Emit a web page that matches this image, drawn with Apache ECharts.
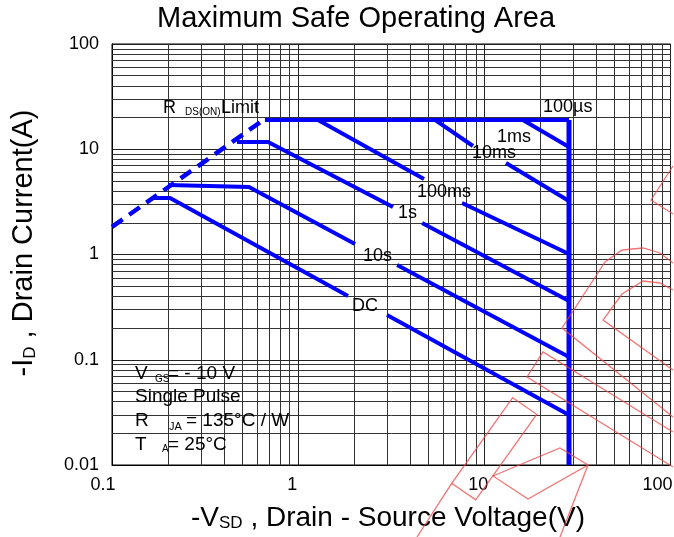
<!DOCTYPE html>
<html><head><meta charset="utf-8">
<script src="https://cdn.jsdelivr.net/npm/echarts@6/dist/echarts.min.js"></script>
<style>html,body{margin:0;padding:0;background:#fff}#c{width:674px;height:537px}</style>
</head><body><div id="c"></div>
<script>
// ---- tick labels & grid values ----
const xTickLabels = ['0.1', '1', '10', '100'];
const yTickLabels = ['0.01', '0.1', '1', '10', '100'];
const xMinorGrid = [0.2,0.3,0.4,0.5,0.6,0.7,0.8,0.9,2,3,4,5,6,7,8,9,20,30,40,50,60,70,80,90];
const yMinorGrid = [0.02,0.03,0.04,0.05,0.06,0.07,0.08,0.09,0.2,0.3,0.4,0.5,0.6,0.7,0.8,0.9,2,3,4,5,6,7,8,9,20,30,40,50,60,70,80,90];

// ---- SOA boundary data [V, A] ----
const rdsonLimit   = [[0.1, 1.83], [0.64, 18.6]];
const currentLimit = [[0.663, 19], [28.5, 19]];
const voltageLimit = [[28.5, 19], [28.5, 0.01]];
const line100us    = [[16.1, 19], [28.5, 10.5]];
const line10msA    = [[5.43, 19], [8.69, 10.74]];
const line10msB    = [[13.07, 7.40], [28.5, 3.22]];
const line100msA   = [[1.278, 19], [4.74, 5.21]];
const line100msB   = [[7.59, 3.085], [28.5, 1.011]];
const line1sA      = [[0.469, 11.72], [0.689, 11.72], [3.23, 2.83]];
const line1sB      = [[4.63, 1.99], [28.5, 0.362]];
const line10sA     = [[0.2, 4.575], [0.544, 4.38], [2.02, 1.258]];
const line10sB     = [[3.40, 0.795], [28.5, 0.106]];
const lineDCA      = [[0.164, 3.44], [0.205, 3.44], [1.852, 0.403]];
const lineDCB      = [[3.0, 0.266], [28.5, 0.0299]];

const FONT = "'Liberation Sans', Arial, Helvetica, sans-serif";
const BLUE = '#0000ff';

function fmt(labels, edgeStyles) {
  return function (v) {
    const lg = Math.log10(v);
    const i = labels.findIndex(s => Math.abs(Math.log10(parseFloat(s)) - lg) < 1e-6);
    if (i < 0) return '';
    if (edgeStyles && i === 0) return '{first|' + labels[i] + '}';
    if (edgeStyles && i === labels.length - 1) return '{last|' + labels[i] + '}';
    return labels[i];
  };
}

function seg(data, width, dashed) {
  return {
    type: 'line', data: data, showSymbol: false, symbol: 'none', z: 5, silent: true,
    lineStyle: { color: BLUE, width: width, type: dashed ? [13, 8] : 'solid', cap: 'butt', join: 'miter' }
  };
}

function txt(x, y, text, size, extra) {
  return Object.assign({
    type: 'text', x: x, y: y, z: 100, silent: true,
    style: { text: text, font: size + 'px ' + FONT, fill: '#000', align: 'left', verticalAlign: 'middle' }
  }, extra || {});
}

function wm(points, closed) {
  return {
    type: closed ? 'polygon' : 'polyline', z: 120, silent: true,
    shape: { points: points },
    style: { stroke: 'rgba(238,70,70,0.75)', lineWidth: 1.3, fill: null }
  };
}

const chart = echarts.init(document.getElementById('c'), null, { renderer: 'canvas' });

const minorMarks = xMinorGrid.map(v => ({ xAxis: v })).concat(yMinorGrid.map(v => ({ yAxis: v })));

chart.setOption({
  animation: false,
  backgroundColor: '#fff',
  grid: { left: 112, right: 3.5, top: 44, bottom: 72, show: true, borderColor: '#000', borderWidth: 1, containLabel: false, outerBoundsMode: 'none' },
  xAxis: {
    type: 'log', logBase: 10, min: 0.1, max: 100,
    axisLine: { show: true, lineStyle: { color: '#000', width: 1 } },
    axisTick: { show: false },
    axisLabel: {
      formatter: fmt(xTickLabels, true), color: '#000', fontSize: 18, fontFamily: FONT, margin: 11,
      padding: [0, 12, 0, 0], showMinLabel: true, showMaxLabel: true, hideOverlap: false,
      rich: {
        first: { fontSize: 18, fontFamily: FONT, color: '#000', padding: [0, 6, 0, 0] },
        last: { fontSize: 18, fontFamily: FONT, color: '#000', padding: [0, 14, 0, 0] }
      }
    },
    splitLine: { show: true, lineStyle: { color: '#222', width: 1 } },
    minorTick: { show: false }, minorSplitLine: { show: false }
  },
  yAxis: {
    type: 'log', logBase: 10, min: 0.01, max: 100,
    axisLine: { show: true, lineStyle: { color: '#000', width: 1 } },
    axisTick: { show: false },
    axisLabel: { formatter: fmt(yTickLabels, false), color: '#000', fontSize: 18, fontFamily: FONT, margin: 13, showMinLabel: true, showMaxLabel: true, hideOverlap: false },
    splitLine: { show: true, lineStyle: { color: '#222', width: 1 } },
    minorTick: { show: false }, minorSplitLine: { show: false }
  },
  series: [
    {
      type: 'line', data: [[1, 1]], showSymbol: false, symbol: 'none', silent: true, z: 1,
      lineStyle: { opacity: 0 },
      markLine: {
        silent: true, symbol: ['none', 'none'], label: { show: false }, animation: false,
        lineStyle: { color: '#333', width: 1, type: 'solid' },
        emphasis: { disabled: true },
        data: minorMarks
      }
    },
    seg(rdsonLimit, 4.5, true),
    seg(currentLimit, 4, false),
    seg(voltageLimit, 5, false),
    seg(line100us, 4, false),
    seg(line10msA, 4, false), seg(line10msB, 4, false),
    seg(line100msA, 4, false), seg(line100msB, 4, false),
    seg(line1sA, 4, false), seg(line1sB, 4, false),
    seg(line10sA, 4, false), seg(line10sB, 4, false),
    seg(lineDCA, 4, false), seg(lineDCB, 4, false)
  ],
  graphic: [
    txt(157, 19, 'Maximum Safe Operating Area', 29),
    // x axis title
    {
      type: 'text', x: 388, y: 518, z: 100, silent: true,
      style: {
        text: '{a|-V}{s|SD}{a| , Drain - Source Voltage(V)}',
        align: 'center', verticalAlign: 'middle', fill: '#000',
        rich: { a: { fontSize: 28, fontFamily: FONT, fill: '#000' }, s: { fontSize: 17, fontFamily: FONT, fill: '#000', verticalAlign: 'bottom' } }
      }
    },
    // y axis title
    {
      type: 'text', x: 24, y: 243, rotation: Math.PI / 2, z: 100, silent: true,
      style: {
        text: '{a|-I}{s|D}{a| , Drain Current(A)}',
        align: 'center', verticalAlign: 'middle', fill: '#000',
        rich: { a: { fontSize: 29, fontFamily: FONT, fill: '#000' }, s: { fontSize: 17, fontFamily: FONT, fill: '#000', verticalAlign: 'bottom' } }
      }
    },
    // RDS(on) label
    txt(163, 108, 'R', 18), txt(185, 112, 'DS(ON)', 10), txt(221, 108, 'Limit', 18),
    // pulse labels
    txt(543, 107, '100µs', 18),
    txt(497, 137.5, '1ms', 18),
    txt(472, 153.5, '10ms', 18),
    txt(417, 192.5, '100ms', 18),
    txt(398, 213, '1s', 18),
    txt(363, 256, '10s', 18),
    txt(352, 306, 'DC', 18),
    // conditions
    txt(135, 374, 'V', 19), txt(155, 379, 'GS', 10), txt(168, 374, '= - 10 V', 19),
    txt(135, 397, 'Single Pulse', 19),
    txt(135, 421, 'R', 19), txt(169, 427, 'JA', 11), txt(186, 421, '= 135°C / W', 19),
    txt(135, 445, 'T', 19), txt(162, 449, 'A', 10), txt(168, 445, '= 25°C', 19),
    // watermark stamp (decorative)
    wm([[673, 166], [651, 200], [673, 214]], false),
    wm([[673, 417], [562, 328], [605, 262], [622, 250], [643, 248], [660, 253], [673, 263]], false),
    wm([[673, 370], [603, 320], [622, 294], [643, 281], [660, 283], [673, 290]], false),
    wm([[673, 432], [543, 352], [527, 377], [673, 467]], false),
    wm([[512.7, 397.7], [536.7, 414.3], [475.7, 499.9], [451.7, 483.3]], true),
    wm([[493, 476], [560, 448], [588, 465], [528, 499]], true),
    wm([[417, 537], [451.7, 483.3]], false),
    wm([[560, 537], [588, 465]], false)
  ]
});
</script>
</body></html>
